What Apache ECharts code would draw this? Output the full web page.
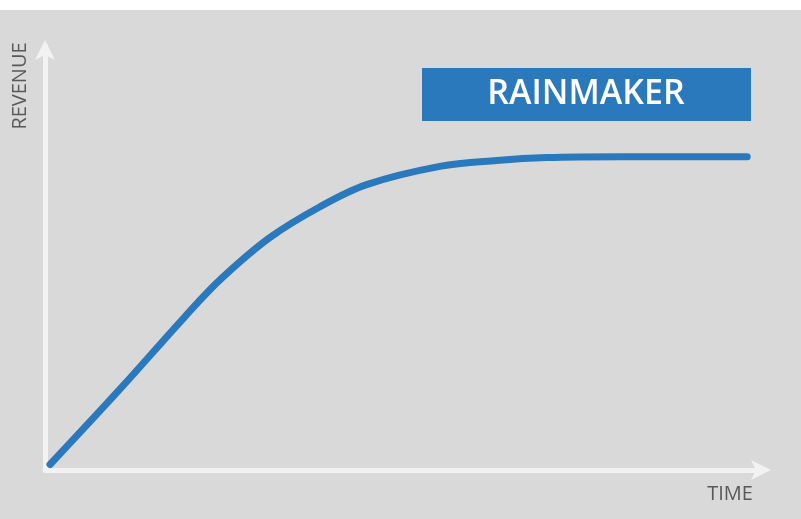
<!DOCTYPE html>
<html>
<head>
<meta charset="utf-8">
<script src="https://cdn.jsdelivr.net/npm/echarts@6/dist/echarts.min.js"></script>
<style>
  html, body { margin: 0; padding: 0; background: #fff; }
  #mainChart { position: absolute; left: 0; top: 10px; width: 801px; height: 509px; background: #d9d9d9; }
</style>
</head>
<body>
<div id="mainChart"></div>
<script>
// axis units 0..100
var time = [0.7, 10.4, 19.5, 24.4, 31.3, 38.3, 44.8, 55.0, 62.9, 69.9, 80.1, 97.8];
var revenue = [1.3, 19.0, 36.2, 44.9, 54.8, 62.1, 67.3, 71.6, 73.0, 73.7, 73.9, 73.9];
var label = 'RAINMAKER';
var xName = 'TIME';
var yName = 'REVENUE';

var points = time.map(function (t, i) { return [t, revenue[i]]; });

var myChart = echarts.init(document.getElementById('mainChart'));
function axisLine(offset) {
  return {
    show: true,
    symbol: ['none', 'arrow'],
    symbolSize: [15, 20],
    symbolOffset: [0, offset],
    lineStyle: { color: '#f2f2f2', width: 5 }
  };
}
myChart.setOption({
  animation: false,
  grid: { left: 45, right: 38, top: 36, bottom: 49 },
  xAxis: {
    type: 'value', min: 0, max: 100,
    axisLine: axisLine(8),
    axisTick: { show: false }, axisLabel: { show: false }, splitLine: { show: false }
  },
  yAxis: {
    type: 'value', min: 0, max: 100,
    axisLine: axisLine(6),
    axisTick: { show: false }, axisLabel: { show: false }, splitLine: { show: false }
  },
  series: [
    {
      type: 'line',
      data: points,
      smooth: 0.35,
      showSymbol: false,
      lineStyle: { color: '#2a78bd', width: 7, cap: 'round' }
    }
  ],
  graphic: [
    {
      type: 'rect',
      shape: { x: 422, y: 58, width: 329, height: 53 },
      style: { fill: '#2a79bc' }
    },
    {
      type: 'text',
      x: 586, y: 84,
      style: {
        text: label, fill: '#ffffff', font: '600 34px "Open Sans"',
        align: 'center', verticalAlign: 'middle'
      }
    },
    {
      type: 'text',
      x: 730, y: 484,
      style: {
        text: xName, fill: '#595959', font: '20px "Open Sans"',
        align: 'center', verticalAlign: 'middle'
      }
    },
    {
      type: 'text',
      x: 20, y: 76,
      rotation: Math.PI / 2,
      style: {
        text: yName, fill: '#595959', font: '20px "Open Sans"',
        align: 'center', verticalAlign: 'middle'
      }
    }
  ]
});
</script>
</body>
</html>
